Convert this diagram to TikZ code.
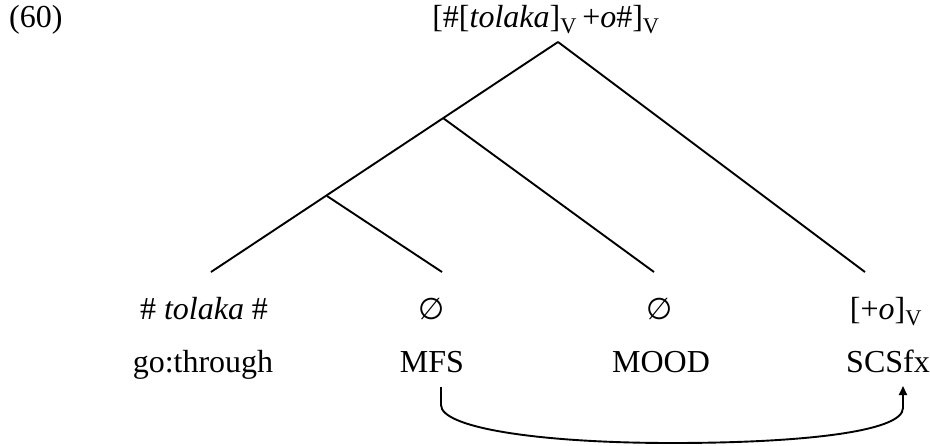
\documentclass[tikz,border=0pt]{standalone}
\usepackage{fontspec}
\setmainfont{Liberation Serif}
\newfontfamily\symfont{DejaVu Sans}
\usetikzlibrary{arrows.meta}
\begin{document}
\begin{tikzpicture}[x=1pt,y=-1pt,
  lbl/.style={inner sep=0pt,anchor=base,font=\fontsize{32}{36}\selectfont},
  branch/.style={line width=1.9pt},
  link/.style={line width=1.9pt,-{Triangle[length=9pt,width=8pt]}}]
\useasboundingbox (0,0) rectangle (930,445);
% labels
\node[lbl,anchor=base west] (ex) at (9,27) {(60)};
\node[lbl] (root) at (546,27) {[\#[\textit{tolaka}]\textsubscript{V}\,+\textit{o}\#]\textsubscript{V}};
\node[lbl] (l1a) at (204,319) {\# \textit{tolaka} \#};
\node[lbl] (l1b) at (432,319) {{\symfont\fontsize{30}{32}\selectfont ∅}};
\node[lbl] (l1c) at (660,319) {{\symfont\fontsize{30}{32}\selectfont ∅}};
\node[lbl] (l1d) at (886,319) {[+\textit{o}]\textsubscript{V}};
\node[lbl] (l2a) at (203,372) {go:through};
\node[lbl] (l2b) at (432,372) {MFS};
\node[lbl] (l2c) at (661,372) {MOOD};
\node[lbl] (l2d) at (888,372) {SCSfx};
% tree
\coordinate (top) at (558,42);
\coordinate (n2) at (443,118);
\coordinate (n3) at (327,196);
\coordinate (e1) at (211,272);
\coordinate (e2) at (442,272);
\coordinate (e3) at (654,272);
\coordinate (e4) at (865,272);
\draw[branch] (top) -- (e1);
\draw[branch] (top) -- (e4);
\draw[branch] (n2) -- (e3);
\draw[branch] (n3) -- (e2);
% arrow
\coordinate (as) at (441,387);
\coordinate (at) at (903,386);
\draw[link] (as) -- (441,405) .. controls (441,428) and (540,443) .. (672,443)
  .. controls (800,443) and (903,432) .. (903,408) -- (at);
\end{tikzpicture}
\end{document}
